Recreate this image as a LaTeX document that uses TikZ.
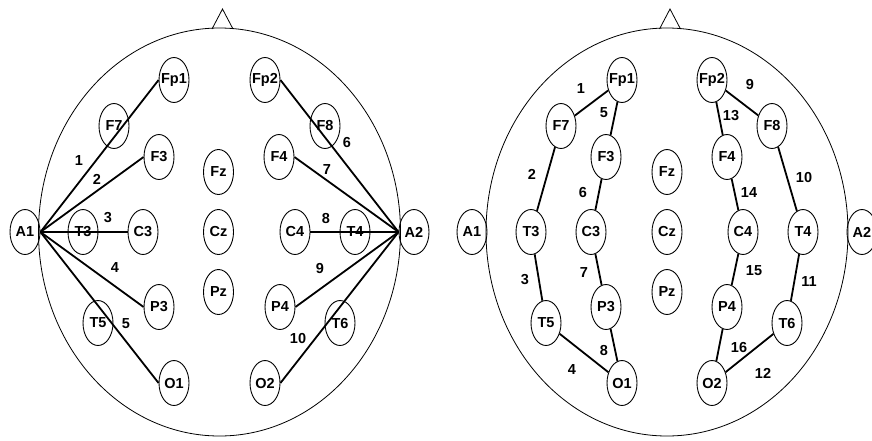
\documentclass[tikz,border=0pt]{standalone}
\usepackage{fontspec}
\setmainfont{Liberation Sans}
\usetikzlibrary{shapes.geometric}

\begin{document}
\begin{tikzpicture}[x=1pt,y=-1pt,
  el/.style={ellipse,draw,line width=0.9pt,minimum width=30pt,minimum height=45pt,inner sep=0pt},
  wire/.style={line width=1.8pt},
  num/.style={inner sep=0pt},
  every node/.style={font=\fontsize{14.5}{16}\selectfont\bfseries}]
\useasboundingbox (0,0) rectangle (872,440);

% left head: referential montage
\draw[line width=0.8pt] (219.5,232) ellipse [x radius=181pt,y radius=204pt];
\draw[line width=0.8pt] (212,29)--(222.5,9)--(233,29);

\node[el] (lA1) at (25,232) {\makebox[0pt]{A1}};
\node[el] (lT3) at (83,232) {\makebox[0pt]{T3}};
\node[el] (lC3) at (143,232) {\makebox[0pt]{C3}};
\node[el] (lCz) at (218.5,232) {\makebox[0pt]{Cz}};
\node[el] (lC4) at (295,232) {\makebox[0pt]{C4}};
\node[el] (lT4) at (355,232) {\makebox[0pt]{T4}};
\node[el] (lA2) at (414,232) {\makebox[0pt]{A2}};
\node[el] (lFp1) at (174,80) {\makebox[0pt]{Fp1}};
\node[el] (lFp2) at (265,80) {\makebox[0pt]{Fp2}};
\node[el] (lF7) at (114,126) {\makebox[0pt]{F7}};
\node[el] (lF8) at (325,126) {\makebox[0pt]{F8}};
\node[el] (lF3) at (159,157) {\makebox[0pt]{F3}};
\node[el] (lF4) at (279,157) {\makebox[0pt]{F4}};
\node[el] (lFz) at (218.5,172) {\makebox[0pt]{Fz}};
\node[el] (lPz) at (218.5,292) {\makebox[0pt]{Pz}};
\node[el] (lP3) at (159,307) {\makebox[0pt]{P3}};
\node[el] (lP4) at (280,307) {\makebox[0pt]{P4}};
\node[el] (lT5) at (98,323) {\makebox[0pt]{T5}};
\node[el] (lT6) at (340,323) {\makebox[0pt]{T6}};
\node[el] (lO1) at (174,383) {\makebox[0pt]{O1}};
\node[el] (lO2) at (265,383) {\makebox[0pt]{O2}};

\draw[wire] (lA1.east)--(lFp1.west);
\draw[wire] (lA1.east)--(lF3.west);
\draw[wire] (lA1.east)--(lC3.west);
\draw[wire] (lA1.east)--(lP3.west);
\draw[wire] (lA1.east)--(lO1.west);
\draw[wire] (lA2.west)--(lFp2.east);
\draw[wire] (lA2.west)--(lF4.east);
\draw[wire] (lA2.west)--(lC4.east);
\draw[wire] (lA2.west)--(lP4.east);
\draw[wire] (lA2.west)--(lO2.east);

\node[num] (l1) at (79,161) {1};
\node[num] (l2) at (97,179) {2};
\node[num] (l3) at (108,218) {3};
\node[num] (l4) at (115,268) {4};
\node[num] (l5) at (126,324) {5};
\node[num] (l6) at (347,143) {6};
\node[num] (l7) at (327,170) {7};
\node[num] (l8) at (326,219) {8};
\node[num] (l9) at (320,269) {9};
\node[num] (l10) at (298,338) {10};

% right head: bipolar chains
\draw[line width=0.8pt] (667,232) ellipse [x radius=181pt,y radius=204pt];
\draw[line width=0.8pt] (659.5,29)--(670,9)--(680.5,29);

\node[el] (rA1) at (472,232) {\makebox[0pt]{A1}};
\node[el] (rT3) at (531,232) {\makebox[0pt]{T3}};
\node[el] (rC3) at (591,232) {\makebox[0pt]{C3}};
\node[el] (rCz) at (667,232) {\makebox[0pt]{Cz}};
\node[el] (rC4) at (743,232) {\makebox[0pt]{C4}};
\node[el] (rT4) at (803,232) {\makebox[0pt]{T4}};
\node[el] (rA2) at (862,232) {\makebox[0pt]{A2}};
\node[el] (rFp1) at (622,80) {\makebox[0pt]{Fp1}};
\node[el] (rFp2) at (712,80) {\makebox[0pt]{Fp2}};
\node[el] (rF7) at (561,126) {\makebox[0pt]{F7}};
\node[el] (rF8) at (772,126) {\makebox[0pt]{F8}};
\node[el] (rF3) at (606,157) {\makebox[0pt]{F3}};
\node[el] (rF4) at (727,157) {\makebox[0pt]{F4}};
\node[el] (rFz) at (667,172) {\makebox[0pt]{Fz}};
\node[el] (rPz) at (667,292) {\makebox[0pt]{Pz}};
\node[el] (rP3) at (606,307) {\makebox[0pt]{P3}};
\node[el] (rP4) at (727,307) {\makebox[0pt]{P4}};
\node[el] (rT5) at (546,323) {\makebox[0pt]{T5}};
\node[el] (rT6) at (787,323) {\makebox[0pt]{T6}};
\node[el] (rO1) at (622,383) {\makebox[0pt]{O1}};
\node[el] (rO2) at (712,383) {\makebox[0pt]{O2}};

\draw[wire] (rFp1)--(rF7)--(rT3)--(rT5)--(rO1);
\draw[wire] (rFp1)--(rF3)--(rC3)--(rP3)--(rO1);
\draw[wire] (rFp2)--(rF8)--(rT4)--(rT6)--(rO2);
\draw[wire] (rFp2)--(rF4)--(rC4)--(rP4)--(rO2);

\node[num] (r1) at (581,89) {1};
\node[num] (r2) at (532,174) {2};
\node[num] (r3) at (525,280) {3};
\node[num] (r4) at (572,370) {4};
\node[num] (r5) at (604,113) {5};
\node[num] (r6) at (583,193) {6};
\node[num] (r7) at (584,273) {7};
\node[num] (r8) at (604,350) {8};
\node[num] (r9) at (750,85) {9};
\node[num] (r10) at (804,178) {10};
\node[num] (r11) at (809,282) {11};
\node[num] (r12) at (763,373) {12};
\node[num] (r13) at (731,116) {13};
\node[num] (r14) at (749,193) {14};
\node[num] (r15) at (754,271) {15};
\node[num] (r16) at (739,347) {16};
\end{tikzpicture}
\end{document}
